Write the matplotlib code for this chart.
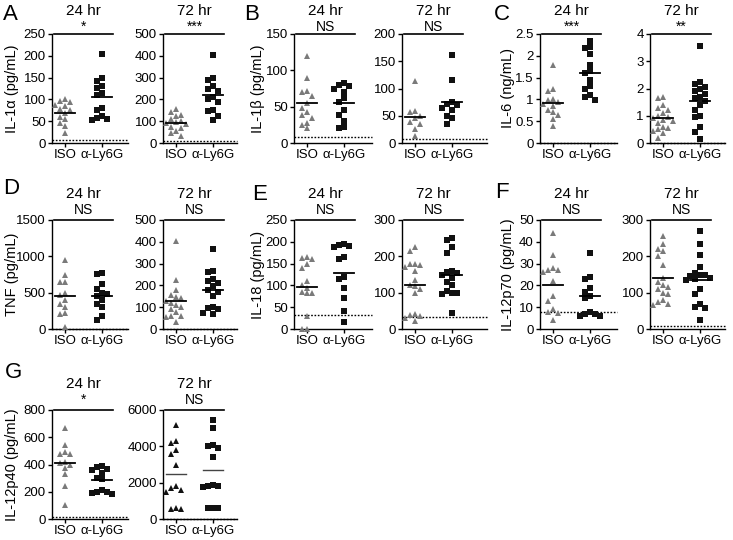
import numpy as np
import matplotlib.pyplot as plt

plt.rcParams['font.family'] = ['Liberation Sans', 'DejaVu Sans']

groups = ['ISO', 'α-Ly6G']

# A: IL-1α (pg/mL)
il1a_24_iso = [100, 97, 95, 88, 85, 78, 75, 68, 60, 55, 45, 40, 22]
il1a_24_ly6g = [205, 148, 142, 130, 127, 115, 110, 80, 75, 62, 58, 55, 52]
il1a_72_iso = [155, 140, 130, 125, 110, 100, 95, 90, 85, 75, 70, 55, 45, 30]
il1a_72_ly6g = [405, 300, 290, 260, 250, 240, 210, 200, 190, 150, 145, 125, 105]
# B: IL-1β (pg/mL)
il1b_24_iso = [120, 90, 72, 70, 65, 55, 48, 42, 38, 35, 28, 25, 20]
il1b_24_ly6g = [82, 80, 78, 75, 70, 62, 57, 45, 38, 30, 22, 20]
il1b_72_iso = [113, 58, 57, 50, 45, 38, 35, 25, 12]
il1b_72_ly6g = [162, 115, 75, 72, 70, 65, 60, 50, 45, 35]
# C: IL-6 (ng/mL)
il6_24_iso = [1.8, 1.25, 1.2, 1.0, 0.98, 0.95, 0.9, 0.85, 0.75, 0.7, 0.65, 0.55, 0.38]
il6_24_ly6g = [2.35, 2.2, 2.18, 2.05, 1.8, 1.65, 1.6, 1.45, 1.3, 1.25, 1.1, 1.05, 0.98]
il6_72_iso = [1.7, 1.65, 1.4, 1.3, 1.2, 1.1, 1.0, 0.95, 0.9, 0.85, 0.8, 0.75, 0.6, 0.55, 0.5, 0.45, 0.35, 0.2]
il6_72_ly6g = [3.55, 2.25, 2.15, 2.05, 2.0, 1.9, 1.8, 1.7, 1.65, 1.55, 1.4, 1.2, 1.0, 0.95, 0.6, 0.4, 0.15]
# D: TNF (pg/mL)
tnf_24_iso = [950, 750, 650, 640, 500, 470, 400, 350, 300, 220, 210, 30]
tnf_24_ly6g = [770, 760, 620, 550, 500, 480, 450, 400, 350, 300, 180, 130]
tnf_72_iso = [405, 225, 180, 155, 145, 140, 130, 120, 110, 100, 90, 80, 60, 60, 55, 30]
tnf_72_ly6g = [365, 265, 260, 230, 220, 210, 195, 180, 170, 150, 100, 95, 90, 75, 70]
# E: IL-18 (pg/mL)
il18_24_iso = [165, 162, 160, 150, 140, 110, 100, 95, 85, 83, 82, 30, 0, 0]
il18_24_ly6g = [195, 192, 190, 188, 165, 160, 120, 115, 95, 70, 42, 15]
il18_72_iso = [225, 215, 180, 178, 175, 170, 160, 135, 120, 118, 110, 100, 40, 38, 35, 30, 22]
il18_72_ly6g = [250, 245, 225, 210, 160, 158, 155, 150, 140, 130, 120, 105, 100, 98, 95, 45]
# F: IL-12p70 (pg/mL)
il12p70_24_iso = [44, 34, 28, 27, 27, 26, 22, 15, 13, 9, 8, 7.5, 4]
il12p70_24_ly6g = [35, 24, 23, 19, 17, 15, 14, 8, 7, 7, 6, 6]
il12p70_72_iso = [255, 235, 220, 215, 200, 175, 140, 130, 120, 115, 110, 100, 95, 80, 75, 70, 65]
il12p70_72_ly6g = [270, 235, 205, 170, 155, 150, 148, 145, 140, 138, 135, 110, 95, 70, 60, 58, 25]
# G: IL-12p40 (pg/mL)
il12p40_24_iso = [670, 540, 490, 480, 475, 420, 410, 400, 375, 330, 245, 100]
il12p40_24_ly6g = [390, 385, 370, 360, 340, 300, 290, 210, 200, 195, 190, 185]
il12p40_72_iso = [5200, 4300, 4200, 3800, 3600, 3000, 1800, 1700, 1600, 1500, 600, 550, 550]
il12p40_72_ly6g = [5450, 5000, 4100, 4000, 3900, 3400, 1850, 1800, 1800, 1750, 600, 600, 580]

# detection limits (dotted lines)
lod = {'A24': 7, 'A72': 7, 'B24': 8, 'B72': 7, 'C24': 0, 'C72': 0, 'D24': 0, 'D72': 0,
       'E24': 32, 'E72': 32, 'F24': 8, 'F72': 7, 'G24': 15, 'G72': 0}
signif = {'A24': '*', 'A72': '***', 'B24': 'NS', 'B72': 'NS', 'C24': '***', 'C72': '**',
          'D24': 'NS', 'D72': 'NS', 'E24': 'NS', 'E72': 'NS', 'F24': 'NS', 'F72': 'NS',
          'G24': '*', 'G72': 'NS'}
ylabels = {'A': 'IL-1α (pg/mL)', 'B': 'IL-1β (pg/mL)', 'C': 'IL-6 (ng/mL)', 'D': 'TNF (pg/mL)',
           'E': 'IL-18 (pg/mL)', 'F': 'IL-12p70 (pg/mL)', 'G': 'IL-12p40 (pg/mL)'}

panels = [
    ('A', '24', il1a_24_iso, il1a_24_ly6g, np.arange(0, 251, 50)),
    ('A', '72', il1a_72_iso, il1a_72_ly6g, np.arange(0, 501, 100)),
    ('B', '24', il1b_24_iso, il1b_24_ly6g, np.arange(0, 151, 50)),
    ('B', '72', il1b_72_iso, il1b_72_ly6g, np.arange(0, 201, 50)),
    ('C', '24', il6_24_iso, il6_24_ly6g, np.arange(0, 2.51, 0.5)),
    ('C', '72', il6_72_iso, il6_72_ly6g, np.arange(0, 4.1, 1)),
    ('D', '24', tnf_24_iso, tnf_24_ly6g, np.arange(0, 1501, 500)),
    ('D', '72', tnf_72_iso, tnf_72_ly6g, np.arange(0, 501, 100)),
    ('E', '24', il18_24_iso, il18_24_ly6g, np.arange(0, 251, 50)),
    ('E', '72', il18_72_iso, il18_72_ly6g, np.arange(0, 301, 100)),
    ('F', '24', il12p70_24_iso, il12p70_24_ly6g, np.arange(0, 51, 10)),
    ('F', '72', il12p70_72_iso, il12p70_72_ly6g, np.arange(0, 301, 100)),
    ('G', '24', il12p40_24_iso, il12p40_24_ly6g, np.arange(0, 801, 200)),
    ('G', '72', il12p40_72_iso, il12p40_72_ly6g, np.arange(0, 6001, 2000)),
]

# layout in pixels
W, H = 733, 540
row_top = {'A': 34, 'B': 34, 'C': 34, 'D': 220, 'E': 220, 'F': 220, 'G': 410}
col_left = {('A', '24'): 52, ('A', '72'): 163, ('B', '24'): 294, ('B', '72'): 402,
            ('C', '24'): 540, ('C', '72'): 650}
col_width = {('A', '24'): 76, ('A', '72'): 74, ('B', '24'): 78, ('B', '72'): 85,
             ('C', '24'): 77, ('C', '72'): 75}
col_of = {'A': 'A', 'D': 'A', 'G': 'A', 'B': 'B', 'E': 'B', 'C': 'C', 'F': 'C'}
label_x = {'A': 19, 'B': 265, 'C': 515}
letter_pos = {'A': (3, 14), 'B': (244, 14), 'C': (494, 14), 'D': (3, 188),
              'E': (252, 194), 'F': (495, 193), 'G': (5, 373)}
AX_H = 109
PX_UNIT = 37.0
X0 = 13


def spread(vals, px_per_val, dx=0.13, h=5.5):
    vals = np.asarray(vals, dtype=float)
    xs = np.zeros(len(vals))
    placed = []
    cands = [0.0] + [s * k * dx for k in range(1, 7) for s in (-1, 1)]
    for i in np.argsort(vals)[::-1]:
        y = vals[i] * px_per_val
        for c in cands:
            if all(abs(c - px) > dx * 0.9 or abs(y - py) >= h for px, py in placed):
                xs[i] = c
                placed.append((c, y))
                break
    return xs


def fmt(v):
    if v == 0:
        return '0'
    if float(v).is_integer():
        return str(int(v))
    return f'{v:.1f}'


fig = plt.figure(figsize=(W / 100, H / 100), dpi=100)

for letter, hr, iso, ly6g, ticks in panels:
    key = letter + hr
    c = col_of[letter]
    left = col_left[(c, hr)]
    width = col_width[(c, hr)]
    top = row_top[letter]
    ax = fig.add_axes([left / W, 1 - (top + AX_H) / H, width / W, AX_H / H])
    ymax = ticks[-1]
    ax.set_ylim(0, ymax)
    ax.set_xlim(-X0 / PX_UNIT, (width - X0) / PX_UNIT)
    ppv = AX_H / ymax

    black_tri = key == 'G72'
    for gi, (vals, marker) in enumerate([(iso, '^'), (ly6g, 's')]):
        xs = gi + spread(vals, ppv)
        if marker == '^':
            col = '#111111' if black_tri else '#7a7a7a'
            ms = 4.6
        else:
            col = '#111111'
            ms = 4.0
        ax.plot(xs, vals, linestyle='none', marker=marker, ms=ms, color=col,
                markeredgewidth=0, clip_on=False, zorder=3)
        m = np.mean(vals)
        ax.plot([gi - 0.28, gi + 0.28], [m, m], color='#444444' if black_tri else 'black',
                lw=1.0 if black_tri else 1.3, zorder=4)

    # detection limit
    ax.axhline(lod[key], color='black', lw=1.0, linestyle=(0, (1.2, 1.2)), zorder=2, clip_on=False)

    # significance bracket
    ax.plot([-0.3, 1.3], [ymax, ymax], color='black', lw=1.2, clip_on=False)
    off = 3 if letter in 'ABC' else 6
    ax.annotate(signif[key], (0.5, ymax), xytext=(0, off * 0.72), textcoords='offset points',
                ha='center', va='baseline', fontsize=10)
    toff = 23 if letter in 'ABC' else 26
    ax.annotate(f'{hr} hr', (0.5, ymax), xytext=(0, toff * 0.72), textcoords='offset points',
                ha='center', va='center', fontsize=11)

    ax.spines['top'].set_visible(False)
    ax.spines['right'].set_visible(False)
    for s in ('left', 'bottom'):
        ax.spines[s].set_linewidth(1.0)
    ax.set_yticks(ticks)
    ax.set_yticklabels([fmt(t) for t in ticks])
    ax.set_xticks([0, 1])
    ax.set_xticklabels(groups)
    ax.tick_params(axis='both', direction='out', length=3, width=1.0, labelsize=9.5, pad=1.5)

    if hr == '24':
        ax.set_ylabel(ylabels[letter], fontsize=10.5)
        ax.yaxis.set_label_coords((label_x[c] - left) / width, 0.5)
        lx, ly = letter_pos[letter]
        fig.text(lx / W, 1 - ly / H, letter, fontsize=16, ha='left', va='center')

fig.savefig('out.png', dpi=100)
